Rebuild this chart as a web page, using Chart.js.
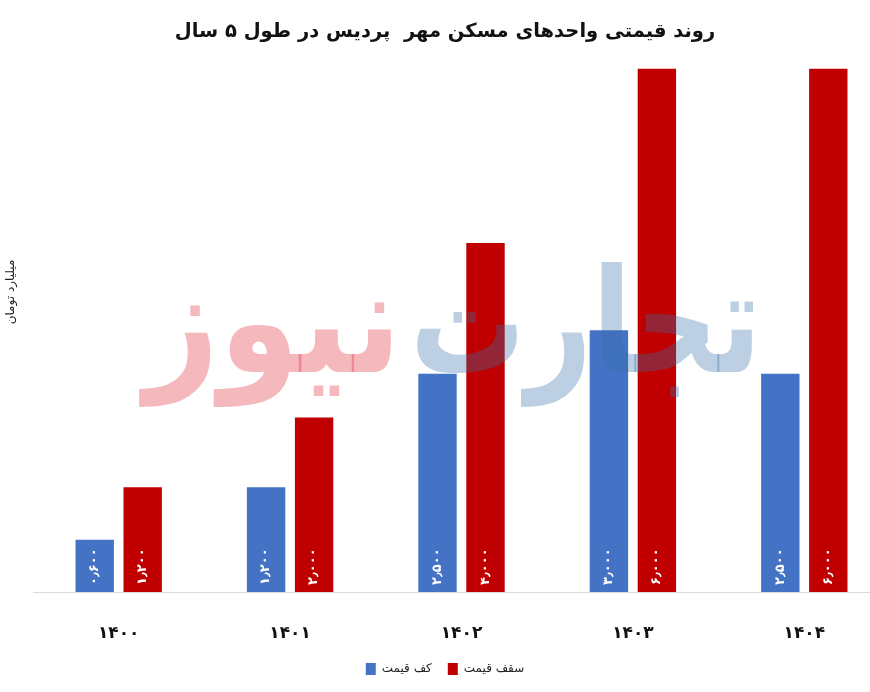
<!DOCTYPE html>
<html lang="fa">
<head>
<meta charset="utf-8">
<title>مسکن مهر پردیس</title>
<script src="https://cdn.jsdelivr.net/npm/chart.js@4.4.1/dist/chart.umd.min.js"></script>
<style>
    html, body { margin: 0; padding: 0; background: #fff; overflow: hidden; }
    #wrap { position: absolute; left: 0; top: 0; width: 890px; height: 692px; }
</style>
</head>
<body>
<div id="wrap"><canvas id="chart"></canvas></div>
<script>
const years = ['۱۴۰۰', '۱۴۰۱', '۱۴۰۲', '۱۴۰۳', '۱۴۰۴'];
const floorPrice = [0.6, 1.2, 2.5, 3.0, 2.5];   // کف قیمت
const ceilPrice = [1.2, 2.0, 4.0, 6.0, 6.0];    // سقف قیمت
const seriesNames = ['کف قیمت', 'سقف قیمت'];
const chartTitle = 'روند قیمتی واحدهای مسکن مهر  پردیس در طول ۵ سال';
const yTitle = 'میلیارد تومان';

const FONT = "'DejaVu Sans', 'Noto Sans', sans-serif";

function toPersian(v) {
    const digits = '۰۱۲۳۴۵۶۷۸۹';
    return v.toFixed(3).replace(/\d/g, d => digits[d]).replace('.', '٫');
}

// vertical value labels at the foot of each bar
const barLabels = {
    id: 'barLabels',
    afterDatasetsDraw(chart) {
        const ctx = chart.ctx;
        ctx.save();
        ctx.fillStyle = '#ffffff';
        ctx.font = 'bold 13px ' + FONT;
        ctx.textAlign = 'left';
        ctx.textBaseline = 'middle';
        chart.data.datasets.forEach((ds, i) => {
            chart.getDatasetMeta(i).data.forEach((bar, j) => {
                ctx.save();
                ctx.translate(bar.x, bar.base - 7);
                ctx.rotate(-Math.PI / 2);
                ctx.fillText(toPersian(ds.data[j]), 0, 0);
                ctx.restore();
            });
        });
        ctx.restore();
    }
};

// y axis caption + faint site watermark
const decorations = {
    id: 'decorations',
    afterDraw(chart) {
        const ctx = chart.ctx;
        const area = chart.chartArea;
        ctx.save();
        ctx.fillStyle = '#222';
        ctx.font = '12px ' + FONT;
        ctx.textAlign = 'center';
        ctx.textBaseline = 'middle';
        ctx.translate(11, 292);
        ctx.rotate(-Math.PI / 2);
        ctx.fillText(yTitle, 0, 0);
        ctx.restore();

        const drawMark = (text, color, x0, x1, yBase, size) => {
            ctx.save();
            ctx.globalAlpha = 0.33;
            ctx.fillStyle = color;
            ctx.font = 'bold ' + size + 'px ' + FONT;
            ctx.textAlign = 'left';
            ctx.textBaseline = 'alphabetic';
            const w = ctx.measureText(text).width;
            ctx.translate(x0, yBase);
            ctx.scale((x1 - x0) / w, 1);
            ctx.fillText(text, 0, 0);
            ctx.restore();
        };
        const w = area.right - area.left;
        drawMark('نیوز', 'rgb(226,40,54)', area.left + w * 0.13, area.left + w * 0.43, 372, 145);
        drawMark('تجارت', 'rgb(54,111,169)', area.left + w * 0.44, area.left + w * 0.85, 372, 145);
    }
};

new Chart(document.getElementById('chart'), {
    type: 'bar',
    data: {
        labels: years,
        datasets: [
            {
                label: seriesNames[0],
                data: floorPrice,
                backgroundColor: '#4472C4',
                barPercentage: 0.8,
                categoryPercentage: 0.56
            },
            {
                label: seriesNames[1],
                data: ceilPrice,
                backgroundColor: '#C00000',
                barPercentage: 0.8,
                categoryPercentage: 0.56
            }
        ]
    },
    options: {
        responsive: true,
        maintainAspectRatio: false,
        animation: false,
        layout: { padding: { left: 0, right: 0, bottom: 7 } },
        scales: {
            x: {
                grid: { display: true, drawOnChartArea: false, drawTicks: false },
                border: { display: true, color: '#d9d9d9', width: 1 },
                ticks: {
                    color: '#111',
                    padding: 31,
                    font: { family: FONT, size: 17, weight: 'bold' }
                },
                afterFit(scale) { scale.height = 55; }
            },
            y: {
                display: true,
                min: 0,
                max: 6,
                ticks: { display: false },
                grid: { display: false },
                border: { display: false },
                afterFit(scale) { scale.width = 33; }
            }
        },
        plugins: {
            title: {
                display: true,
                text: chartTitle,
                color: '#111',
                font: { family: FONT, size: 19.5, weight: 'bold' },
                padding: { top: 20, bottom: 25 }
            },
            legend: {
                position: 'bottom',
                labels: {
                    color: '#222',
                    boxWidth: 10,
                    boxHeight: 12,
                    padding: 16,
                    font: { family: FONT, size: 12 }
                }
            },
            tooltip: { enabled: false }
        }
    },
    plugins: [barLabels, decorations]
});
</script>
</body>
</html>
